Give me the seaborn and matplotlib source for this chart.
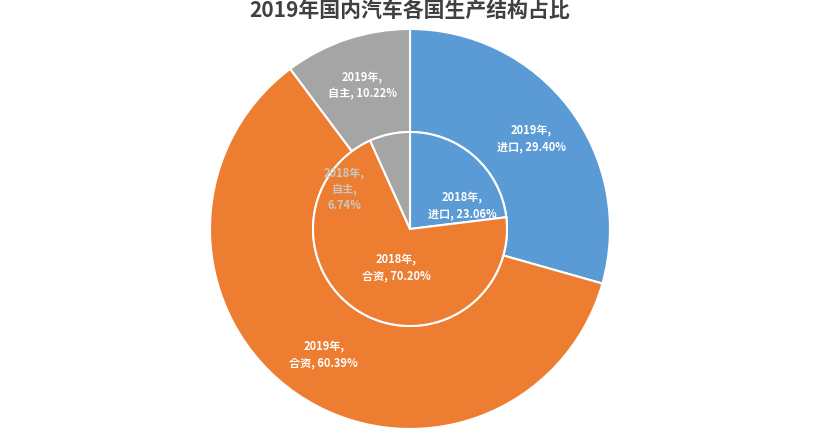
import numpy as np
import matplotlib.pyplot as plt
import seaborn as sns

sns.set_style("white")
plt.rcParams["font.family"] = ["Noto Sans CJK SC", "Noto Sans CJK JP", "Noto Sans CJK TC", "DejaVu Sans"]

categories = ["进口", "合资", "自主"]
share_2019 = [29.40, 60.39, 10.22]
share_2018 = [23.06, 70.20, 6.74]
colors = ["#5B9BD5", "#ED7D31", "#A5A5A5"]

fig = plt.figure(figsize=(8.2, 4.35), dpi=100)
ax = fig.add_axes([210 / 820, 5 / 435, 400 / 820, 400 / 435])

# outer ring 2019, inner pie 2018
ax.pie(share_2019, colors=colors, startangle=90, counterclock=False, radius=1.0,
       wedgeprops=dict(width=0.515, edgecolor="white", linewidth=1.5))
ax.pie(share_2018, colors=colors, startangle=90, counterclock=False, radius=0.485,
       wedgeprops=dict(edgecolor="white", linewidth=1.5))

# outer labels at the middle of each ring segment
start = 90.0
for cat, v in zip(categories, share_2019):
    mid = np.deg2rad(start - v / 100 * 360 / 2)
    start -= v / 100 * 360
    ax.text(0.76 * np.cos(mid), 0.76 * np.sin(mid), f"2019年,\n{cat}, {v:.2f}%",
            ha="center", va="center", fontsize=8, color="white", fontweight="bold", linespacing=1.3)

# inner labels
ax.text(0.26, 0.12, f"2018年,\n{categories[0]}, {share_2018[0]:.2f}%", ha="center", va="center",
        fontsize=8, color="white", fontweight="bold", linespacing=1.3)
ax.text(-0.07, -0.19, f"2018年,\n{categories[1]}, {share_2018[1]:.2f}%", ha="center", va="center",
        fontsize=8, color="white", fontweight="bold", linespacing=1.3)
ax.text(-0.33, 0.2, f"2018年,\n{categories[2]},\n{share_2018[2]:.2f}%", ha="center", va="center",
        fontsize=8, color="#C8C8C8", fontweight="bold", linespacing=1.3)

ax.set_xlim(-1, 1)
ax.set_ylim(-1, 1)
ax.set_aspect("equal")

fig.text(0.5, 0.975, "2019年国内汽车各国生产结构占比", ha="center", va="center",
         fontsize=15, fontweight="bold", color="#404040")

fig.savefig("out.png", dpi=100)
